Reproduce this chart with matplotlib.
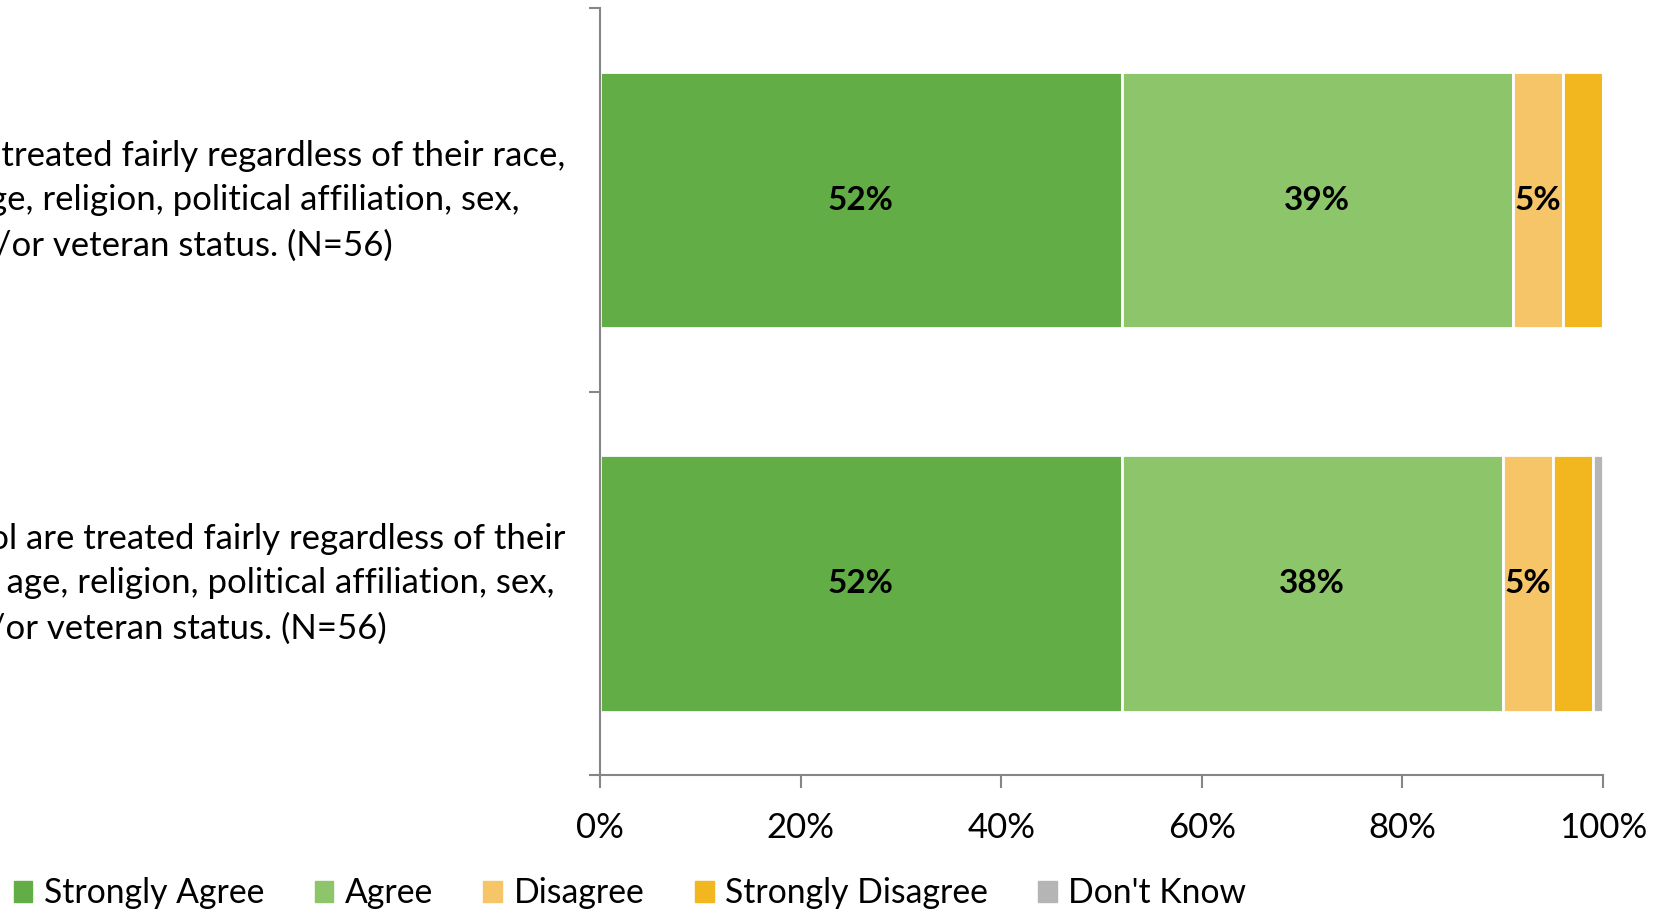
import matplotlib
matplotlib.use("Agg")
import matplotlib.pyplot as plt
from matplotlib.patches import Patch

plt.rcParams['font.family'] = ['Lato', 'DejaVu Sans']

# Category labels (three wrapped lines each; the left part is cut by the figure edge)
categories = [
    ["Students at this school are treated fairly regardless of their race,",
     "color, national origin, age, religion, political affiliation, sex,",
     "sexual orientation, disability, and/or veteran status. (N=56)"],
    ["Faculty and staff at this school are treated fairly regardless of their",
     "race, color, national origin, age, religion, political affiliation, sex,",
     "sexual orientation, disability, and/or veteran status. (N=56)"],
]
series_names = ["Strongly Agree", "Agree", "Disagree", "Strongly Disagree", "Don't Know"]
strongly_agree = [52, 52]
agree = [39, 38]
disagree = [5, 5]
strongly_disagree = [4, 4]
dont_know = [0, 1]
colors = ["#63AD47", "#8DC56A", "#F6C567", "#F2B71F", "#B5B5B5"]

series = [strongly_agree, agree, disagree, strongly_disagree, dont_know]

fig = plt.figure(figsize=(16.62, 9.10), dpi=100)
ax = fig.add_axes([0.361, 0.1484, 0.6035, 0.8423])

ypos = [1, 0]
left = [0, 0]
handles = []
for name, vals, col in zip(series_names, series, colors):
    ax.barh(ypos, vals, left=left, height=0.67, color=col,
            edgecolor="white", linewidth=2, label=name)
    handles.append(Patch(facecolor=col, edgecolor=col, label=name))
    for y, l, v in zip(ypos, left, vals):
        if v >= 5:
            ax.text(l + v / 2, y, f"{v}%", ha="center", va="center",
                    fontsize=24, fontweight="bold", color="black")
    left = [a + b for a, b in zip(left, vals)]

ax.set_xlim(0, 100)
ax.set_ylim(-0.5, 1.5)
ax.set_xticks([0, 20, 40, 60, 80, 100])
ax.set_xticklabels([f"{t}%" for t in [0, 20, 40, 60, 80, 100]], fontsize=25)
ax.set_yticks(ypos)
ax.set_yticklabels(["", ""])
ax.set_yticks([-0.5, 0.5, 1.5], minor=True)
ax.tick_params(axis="y", which="major", length=0)
ax.tick_params(axis="y", which="minor", length=8, color="#868686", width=1.5)
ax.tick_params(axis="x", length=9, color="#868686", width=1.5, pad=18)
for s in ["top", "right"]:
    ax.spines[s].set_visible(False)
for s in ["left", "bottom"]:
    ax.spines[s].set_color("#868686")
    ax.spines[s].set_linewidth(1.5)

# category label lines: centred block, so each line ends at its own right edge
line_right = [[-35, -80, -207], [-35, -45, -213]]
line_base = [34.5, -9.7, -55.5]
for y, lines, rights in zip(ypos, categories, line_right):
    for txt, dx, dy in zip(lines, rights, line_base):
        ax.annotate(txt, xy=(0, y), xycoords=("axes fraction", "data"),
                    xytext=(dx, dy), textcoords="offset pixels",
                    ha="right", va="baseline", fontsize=25,
                    annotation_clip=False)

fig.legend(handles=handles, loc="lower left", bbox_to_anchor=(0.0, -0.014),
           ncol=5, frameon=False, fontsize=24.3, handlelength=0.56,
           handleheight=0.56, handletextpad=0.33, columnspacing=1.5,
           borderaxespad=0.0)

fig.savefig("out.png", dpi=100)
